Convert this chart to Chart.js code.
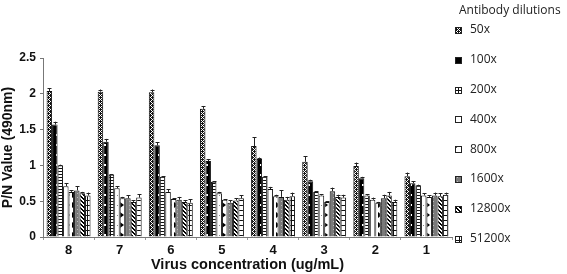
<!DOCTYPE html>
<html>
<head>
<meta charset="utf-8">
<script src="https://cdn.jsdelivr.net/npm/chart.js@4.4.0/dist/chart.umd.min.js"></script>
<style>
  html, body { margin: 0; padding: 0; background: #fff; }
  #wrap { width: 567px; height: 274px; position: relative; }
</style>
</head>
<body>
<div id="wrap"><canvas id="chart" width="567" height="274"></canvas></div>
<script>
// ── Data ────────────────────────────────────────────────────────────────────
const concentrations = ['8', '7', '6', '5', '4', '3', '2', '1'];
const dilutions = ['50x', '100x', '200x', '400x', '800x', '1600x', '12800x', '51200x'];

const d50    = [2.04, 2.03, 2.02, 1.79, 1.27, 1.05, 0.99, 0.85];
const d100   = [1.57, 1.33, 1.28, 1.06, 1.09, 0.78, 0.82, 0.75];
const d200   = [1.00, 0.87, 0.84, 0.77, 0.84, 0.63, 0.58, 0.72];
const d400   = [0.71, 0.68, 0.63, 0.61, 0.67, 0.58, 0.52, 0.58];
const d800   = [0.63, 0.54, 0.53, 0.52, 0.57, 0.49, 0.48, 0.56];
const d1600  = [0.65, 0.54, 0.52, 0.48, 0.56, 0.64, 0.54, 0.58];
const d12800 = [0.61, 0.49, 0.49, 0.51, 0.52, 0.56, 0.58, 0.57];
const d51200 = [0.58, 0.55, 0.48, 0.54, 0.57, 0.55, 0.49, 0.59];

const e50    = [0.04, 0.03, 0.04, 0.04, 0.12, 0.08, 0.05, 0.05];
const e100   = [0.04, 0.04, 0.04, 0.03, 0.02, 0.02, 0.02, 0.03];
const e200   = [0.01, 0.01, 0.01, 0.01, 0.01, 0.01, 0.02, 0.01];
const e400   = [0.04, 0.03, 0.04, 0.02, 0.03, 0.02, 0.03, 0.03];
const e800   = [0.02, 0.02, 0.01, 0.01, 0.02, 0.01, 0.01, 0.02];
const e1600  = [0.06, 0.04, 0.04, 0.03, 0.09, 0.05, 0.05, 0.04];
const e12800 = [0.02, 0.02, 0.02, 0.03, 0.04, 0.03, 0.05, 0.04];
const e51200 = [0.04, 0.05, 0.05, 0.04, 0.05, 0.04, 0.03, 0.03];

const yTicks = [0, 0.5, 1, 1.5, 2, 2.5];

const seriesValues = [d50, d100, d200, d400, d800, d1600, d12800, d51200];
const seriesErrors = [e50, e100, e200, e400, e800, e1600, e12800, e51200];

// ── Fill patterns (black & white print style) ──────────────────────────────
function makePattern(w, h, draw) {
  const c = document.createElement('canvas');
  c.width = w; c.height = h;
  const g = c.getContext('2d');
  draw(g, w, h);
  return document.getElementById('chart').getContext('2d').createPattern(c, 'repeat');
}

const patterns = [
  // 50x: dense crosshatch
  makePattern(4, 4, (g) => {
    g.fillStyle = '#fff'; g.fillRect(0, 0, 4, 4);
    g.fillStyle = '#111';
    g.fillRect(0, 0, 1, 1); g.fillRect(2, 0, 1, 1);
    g.fillRect(1, 1, 1, 1); g.fillRect(3, 1, 1, 1);
    g.fillRect(0, 2, 1, 1); g.fillRect(2, 2, 1, 1);
    g.fillRect(1, 3, 1, 1); g.fillRect(3, 3, 1, 1);
    g.fillRect(0, 1, 1, 1); g.fillRect(2, 3, 1, 1);
  }),
  // 100x: black with white dots
  makePattern(6, 10, (g) => {
    g.fillStyle = '#000'; g.fillRect(0, 0, 6, 10);
    g.fillStyle = '#fff'; g.fillRect(2, 4, 2, 2);
  }),
  // 200x: horizontal lines with a centre line
  makePattern(6, 3, (g) => {
    g.fillStyle = '#fff'; g.fillRect(0, 0, 6, 3);
    g.fillStyle = '#111'; g.fillRect(0, 0, 6, 1); g.fillRect(2, 0, 1, 3);
  }),
  // 400x: white with sparse dots
  makePattern(6, 10, (g) => {
    g.fillStyle = '#fff'; g.fillRect(0, 0, 6, 10);
    g.fillStyle = '#888'; g.fillRect(3, 5, 1, 1);
  }),
  // 800x: white with black triangles
  makePattern(6, 10, (g) => {
    g.fillStyle = '#fff'; g.fillRect(0, 0, 6, 10);
    g.fillStyle = '#000';
    g.beginPath(); g.moveTo(0, 2); g.lineTo(4, 5); g.lineTo(0, 8); g.closePath(); g.fill();
  }),
  // 1600x: grey with light dots
  makePattern(4, 4, (g) => {
    g.fillStyle = '#7a7a7a'; g.fillRect(0, 0, 4, 4);
    g.fillStyle = '#bbb'; g.fillRect(1, 1, 1, 1);
  }),
  // 12800x: diagonal stripes
  makePattern(4, 4, (g) => {
    g.fillStyle = '#fff'; g.fillRect(0, 0, 4, 4);
    g.fillStyle = '#000';
    g.fillRect(0, 0, 1, 1); g.fillRect(1, 1, 1, 1); g.fillRect(2, 2, 1, 1); g.fillRect(3, 3, 1, 1);
    g.fillRect(1, 0, 1, 1); g.fillRect(2, 1, 1, 1); g.fillRect(3, 2, 1, 1); g.fillRect(0, 3, 1, 1);
  }),
  // 51200x: open grid
  makePattern(6, 5, (g) => {
    g.fillStyle = '#fff'; g.fillRect(0, 0, 6, 5);
    g.fillStyle = '#111'; g.fillRect(0, 0, 6, 1); g.fillRect(3, 0, 1, 5);
  }),
];

// ── Error bars (positive side only) ────────────────────────────────────────
const errorBars = {
  id: 'errorBars',
  afterDatasetsDraw(chart) {
    const ctx = chart.ctx;
    const y = chart.scales.y;
    ctx.save();
    ctx.strokeStyle = '#222';
    ctx.lineWidth = 1;
    chart.data.datasets.forEach((ds, di) => {
      const meta = chart.getDatasetMeta(di);
      meta.data.forEach((bar, i) => {
        const v = ds.data[i];
        const top = y.getPixelForValue(v + seriesErrors[di][i]);
        const x = Math.round(bar.x) + 0.5;
        ctx.beginPath();
        ctx.moveTo(x, bar.y);
        ctx.lineTo(x, top);
        ctx.moveTo(x - 2, Math.round(top) + 0.5);
        ctx.lineTo(x + 2, Math.round(top) + 0.5);
        ctx.stroke();
      });
    });
    ctx.restore();
  }
};

// ── Legend on the right ────────────────────────────────────────────────────
const sideLegend = {
  id: 'sideLegend',
  afterDraw(chart) {
    const ctx = chart.ctx;
    ctx.save();
    ctx.fillStyle = '#222';
    ctx.textBaseline = 'middle';
    ctx.font = '12px "Open Sans", sans-serif';
    ctx.fillText('Antibody dilutions', 459, 11);
    dilutions.forEach((lab, i) => {
      const cy = 30 + i * 29.8;
      ctx.fillStyle = patterns[i];
      ctx.fillRect(455, Math.round(cy) - 3, 7, 7);
      ctx.strokeStyle = '#222';
      ctx.strokeRect(455.5, Math.round(cy) - 2.5, 6, 6);
      ctx.fillStyle = '#222';
      ctx.fillText(lab, 470, cy);
    });
    ctx.restore();
  }
};

const datasets = seriesValues.map((vals, i) => ({
  label: dilutions[i],
  data: vals,
  backgroundColor: patterns[i],
  borderColor: '#111',
  borderWidth: 1,
  borderSkipped: 'bottom',
  barPercentage: 1.0,
  categoryPercentage: 0.86,
}));

new Chart(document.getElementById('chart'), {
  type: 'bar',
  data: { labels: concentrations, datasets },
  options: {
    responsive: false,
    animation: false,
    layout: { padding: { left: 0, right: 115, top: 58, bottom: 0 } },
    plugins: {
      legend: { display: false },
      tooltip: { enabled: false },
    },
    scales: {
      x: {
        afterFit: s => { s.height = 37; },
        grid: { display: true, drawOnChartArea: false, offset: true, tickLength: 3, color: '#999' },
        border: { display: true, color: '#777', width: 1 },
        ticks: { color: '#111', font: { family: 'Liberation Sans', size: 13, weight: 'bold' }, padding: 3 },
        title: {
          display: true,
          text: 'Virus concentration (ug/mL)',
          color: '#111',
          font: { family: 'Liberation Sans', size: 14.5, weight: 'bold' },
          padding: { top: 0, bottom: 0 },
        },
      },
      y: {
        min: 0,
        max: 2.5,
        afterFit: s => { s.width = 43; },
        afterBuildTicks: s => { s.ticks = yTicks.map(v => ({ value: v })); },
        grid: { display: true, drawOnChartArea: false, tickLength: 3, color: '#777' },
        border: { display: true, color: '#777', width: 1 },
        ticks: {
          color: '#111',
          font: { family: 'Liberation Sans', size: 12, weight: 'bold' },
          padding: 4,
          callback: v => String(v),
        },
        title: {
          display: true,
          text: 'P/N Value (490nm)',
          color: '#111',
          font: { family: 'Liberation Sans', size: 14, weight: 'bold' },
          padding: { top: 0, bottom: 0 },
        },
      },
    },
  },
  plugins: [errorBars, sideLegend],
});
</script>
</body>
</html>
